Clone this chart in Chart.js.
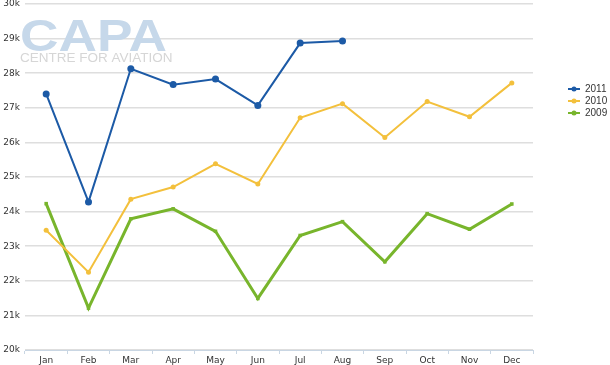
<!DOCTYPE html>
<html>
<head>
<meta charset="utf-8">
<script src="https://cdn.jsdelivr.net/npm/chart.js@4"></script>
<style>
  html, body { margin: 0; padding: 0; background: #fff; }
  #wrap { width: 610px; height: 365px; }
</style>
</head>
<body>
<div id="wrap"><canvas id="mycanvas" width="610" height="365"></canvas></div>
<script>
// monthly values, thousands
var months = ['Jan', 'Feb', 'Mar', 'Apr', 'May', 'Jun', 'Jul', 'Aug', 'Sep', 'Oct', 'Nov', 'Dec'];
var y2011 = [27.40, 24.28, 28.13, 27.67, 27.83, 27.07, 28.87, 28.93, null, null, null, null];
var y2010 = [23.46, 22.25, 24.36, 24.71, 25.38, 24.80, 26.71, 27.12, 26.14, 27.18, 26.74, 27.72];
var y2009 = [24.23, 21.21, 23.79, 24.08, 23.43, 21.49, 23.31, 23.71, 22.55, 23.94, 23.49, 24.22];
var seriesNames = ['2011', '2010', '2009'];
var seriesColors = ['#1c5aa6', '#f3c03c', '#78b52c'];

var axisFont = { family: 'DejaVu Sans', size: 9 };

// watermark logo behind the lines
var logoPlugin = {
    id: 'logo',
    beforeDatasetsDraw: function (chart) {
        var c = chart.ctx;
        c.save();
        c.textBaseline = 'alphabetic';
        c.textAlign = 'left';
        c.fillStyle = '#c6d8ea';
        c.font = 'bold 44px "Liberation Sans"';
        var w = c.measureText('CAPA').width;
        c.save();
        c.translate(20, 51);
        c.scale(147 / w, 1);
        c.fillText('CAPA', 0, 0);
        c.restore();
        c.fillStyle = '#d6d6d6';
        c.font = '13.5px "Liberation Sans"';
        c.fillText('CENTRE FOR AVIATION', 20, 62);
        c.restore();
    }
};

// legend drawn at the right side like the original
var legendPlugin = {
    id: 'sideLegend',
    afterDraw: function (chart) {
        var c = chart.ctx;
        c.save();
        c.font = '10px "Liberation Sans"';
        c.textBaseline = 'middle';
        for (var i = 0; i < seriesNames.length; i++) {
            var y = 89 + i * 12;
            c.strokeStyle = seriesColors[i];
            c.fillStyle = seriesColors[i];
            c.lineWidth = 2;
            c.beginPath();
            c.moveTo(568, y);
            c.lineTo(580, y);
            c.stroke();
            c.beginPath();
            c.arc(574, y, 2.5, 0, Math.PI * 2);
            c.fill();
            c.fillStyle = '#333';
            c.fillText(seriesNames[i], 585, y);
        }
        c.restore();
    }
};

var chartdata = {
    labels: months,
    datasets: [
        {
            label: seriesNames[0],
            data: y2011,
            borderColor: seriesColors[0],
            backgroundColor: seriesColors[0],
            borderWidth: 2,
            pointRadius: 3.5,
            pointBorderWidth: 0
        },
        {
            label: seriesNames[1],
            data: y2010,
            borderColor: seriesColors[1],
            backgroundColor: seriesColors[1],
            borderWidth: 2,
            pointRadius: 2.5,
            pointBorderWidth: 0
        },
        {
            label: seriesNames[2],
            data: y2009,
            borderColor: seriesColors[2],
            backgroundColor: seriesColors[2],
            borderWidth: 3,
            pointRadius: 2.5,
            pointStyle: 'rect',
            pointBorderWidth: 0
        }
    ]
};

var ctx = document.getElementById('mycanvas');

var lineGraph = new Chart(ctx, {
    type: 'line',
    data: chartdata,
    plugins: [logoPlugin, legendPlugin],
    options: {
        responsive: false,
        animation: false,
        spanGaps: false,
        layout: { padding: { top: 4, right: 77, left: 0, bottom: 0 } },
        plugins: {
            legend: { display: false },
            tooltip: { enabled: false }
        },
        elements: { line: { tension: 0 } },
        scales: {
            x: {
                offset: true,
                grid: {
                    offset: true,
                    drawOnChartArea: false,
                    drawTicks: true,
                    tickLength: 4,
                    color: '#c9d6e3'
                },
                border: { color: '#c9d6e3', width: 1 },
                ticks: { font: axisFont, color: '#333', padding: 1, maxRotation: 0 },
                afterFit: function (scale) { scale.height = 15; }
            },
            y: {
                min: 20,
                max: 30,
                grid: { color: '#dedede', lineWidth: 1.5, drawTicks: false },
                border: { display: false },
                ticks: {
                    stepSize: 1,
                    font: axisFont,
                    color: '#333',
                    padding: 5,
                    callback: function (v) { return v + 'k'; }
                },
                afterFit: function (scale) {
                    scale.width = 25;
                    scale.paddingTop = 0;
                    scale.paddingBottom = 0;
                }
            }
        }
    }
});
</script>
</body>
</html>
